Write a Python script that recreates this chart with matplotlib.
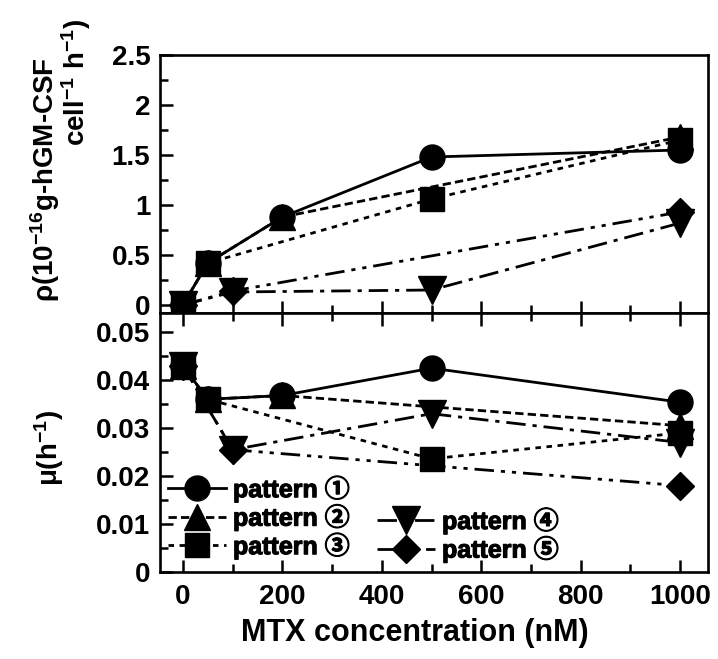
import matplotlib
matplotlib.use('Agg')
import matplotlib.pyplot as plt
from matplotlib.lines import Line2D
from matplotlib.ticker import MultipleLocator, FuncFormatter
import matplotlib.patheffects as pe

plt.rcParams['font.family'] = ['Liberation Sans', 'Noto Sans CJK JP', 'DejaVu Sans']
plt.rcParams['font.weight'] = 'bold'
plt.rcParams['mathtext.default'] = 'regular'

# ---------------- data ----------------
mtx_p1 = [0, 50, 200, 500, 1000]
mtx_p2 = [0, 50, 200, 1000]
mtx_p3 = [0, 50, 500, 1000]
mtx_p4 = [0, 100, 500, 1000]
mtx_p5 = [0, 100, 1000]

rho_p1 = [0, 0.42, 0.88, 1.48, 1.55]
rho_p2 = [0, 0.42, 0.88, 1.68]
rho_p3 = [0, 0.42, 1.06, 1.65]
rho_p4 = [0, 0.13, 0.15, 0.82]
rho_p5 = [0, 0.14, 0.93]

mu_p1 = [0.043, 0.036, 0.0368, 0.0425, 0.0354]
mu_p2 = [0.043, 0.036, 0.0368, 0.0305]
mu_p3 = [0.043, 0.036, 0.0236, 0.029]
mu_p4 = [0.043, 0.0255, 0.033, 0.027]
mu_p5 = [0.043, 0.0255, 0.018]

labels = ['pattern ①', 'pattern ②', 'pattern ③', 'pattern ④', 'pattern ⑤']

# ---------------- styles ----------------
styles = {
    1: dict(marker='o', ms=18, ls='-'),
    2: dict(marker='^', ms=19, ls=(0, (3, 1.5))),
    3: dict(marker='s', ms=17, ls=(0, (2, 2))),
    4: dict(marker='v', ms=19.5, ls=(0, (7, 2.5, 1.5, 2.5))),
    5: dict(marker='D', ms=14, ls=(0, (7, 2.5, 1.5, 2.5, 1.5, 2.5))),
}

W, H = 718, 659
fig = plt.figure(figsize=(W / 100, H / 100), dpi=100)

left = 160 / W
width = (708 - 160) / W
ax1 = fig.add_axes([left, 1 - 313 / H, width, (313 - 55) / H])
ax2 = fig.add_axes([left, 1 - 572 / H, width, (572 - 313) / H])

top_series = [(2, mtx_p2, rho_p2), (5, mtx_p5, rho_p5), (4, mtx_p4, rho_p4),
              (1, mtx_p1, rho_p1), (3, mtx_p3, rho_p3)]
bot_series = [(2, mtx_p2, mu_p2), (5, mtx_p5, mu_p5), (4, mtx_p4, mu_p4),
              (1, mtx_p1, mu_p1), (3, mtx_p3, mu_p3)]

for ax, series in ((ax1, top_series), (ax2, bot_series)):
    for k, xs, ys in series:
        st = styles[k]
        ax.plot(xs, ys, color='black', lw=2.0, linestyle=st['ls'],
                marker=st['marker'], markersize=st['ms'],
                markerfacecolor='black', markeredgecolor='black', clip_on=False)

fmt = FuncFormatter(lambda v, p: '%g' % round(v, 6))

ax1.set_xlim(-46, 1056)
ax1.set_ylim(-0.08, 2.5)
ax2.set_xlim(-46, 1056)
ax2.set_ylim(0, 0.054)

for ax in (ax1, ax2):
    for s in ax.spines.values():
        s.set_linewidth(1.9)
    ax.xaxis.set_major_locator(MultipleLocator(200))
    ax.xaxis.set_minor_locator(MultipleLocator(100))

ax1.yaxis.set_major_locator(MultipleLocator(0.5))
ax1.yaxis.set_minor_locator(MultipleLocator(0.25))
ax2.yaxis.set_major_locator(MultipleLocator(0.01))
ax2.yaxis.set_minor_locator(MultipleLocator(0.005))
ax1.yaxis.set_major_formatter(fmt)
ax2.yaxis.set_major_formatter(fmt)

ax1.tick_params(axis='both', which='both', direction='in', width=1.8,
                top=False, right=False, labelbottom=False)
ax1.tick_params(which='major', length=9)
ax1.tick_params(which='minor', length=6)
ax1.tick_params(axis='y', labelsize=20, pad=7)

ax2.tick_params(axis='both', which='both', direction='in', width=1.8,
                top=True, right=False)
ax2.tick_params(which='major', length=9)
ax2.tick_params(which='minor', length=6)
ax2.tick_params(axis='y', labelsize=20, pad=7)
ax2.tick_params(axis='x', labelsize=20, pad=9)

for lab in ax1.get_yticklabels() + ax2.get_yticklabels() + ax2.get_xticklabels():
    lab.set_fontweight('bold')

# ---------------- labels ----------------
fig.text(415 / W, 1 - 633 / H, 'MTX concentration (nM)', ha='center', va='center',
         fontsize=22, fontweight='bold')
fig.text(45 / W, 1 - 180 / H, r'ρ(10$^{-16}$g-hGM-CSF', rotation=90,
         ha='center', va='center', fontsize=20, fontweight='bold')
fig.text(76 / W, 1 - 82 / H, r'cell$^{-1}$ h$^{-1}$)', rotation=90,
         ha='center', va='center', fontsize=20, fontweight='bold')
fig.text(49 / W, 1 - 448 / H, r'μ(h$^{-1}$)', rotation=90,
         ha='center', va='center', fontsize=20, fontweight='bold')

# ---------------- legends ----------------
handles = []
for k in range(1, 6):
    st = styles[k]
    handles.append(Line2D([], [], color='black', lw=2.0, linestyle=st['ls'],
                          marker=st['marker'], markersize=st['ms'],
                          markerfacecolor='black', markeredgecolor='black'))

leg_prop = dict(size=18, weight='bold')
leg1 = ax2.legend(handles[:3], labels[:3], loc='upper left',
                  bbox_to_anchor=(0.0146, 0.37), frameon=False, borderpad=0,
                  borderaxespad=0, handlelength=2.3, handletextpad=0.3,
                  labelspacing=0.1, numpoints=1, prop=leg_prop)
ax2.add_artist(leg1)
leg2 = ax2.legend(handles[3:], labels[3:], loc='upper left',
                  bbox_to_anchor=(0.396, 0.247), frameon=False, borderpad=0,
                  borderaxespad=0, handlelength=2.3, handletextpad=0.3,
                  labelspacing=0.1, numpoints=1, prop=leg_prop)
for leg in (leg1, leg2):
    for t in leg.get_texts():
        t.set_path_effects([pe.withStroke(linewidth=0.8, foreground='black')])

fig.savefig('out.png', dpi=100)
